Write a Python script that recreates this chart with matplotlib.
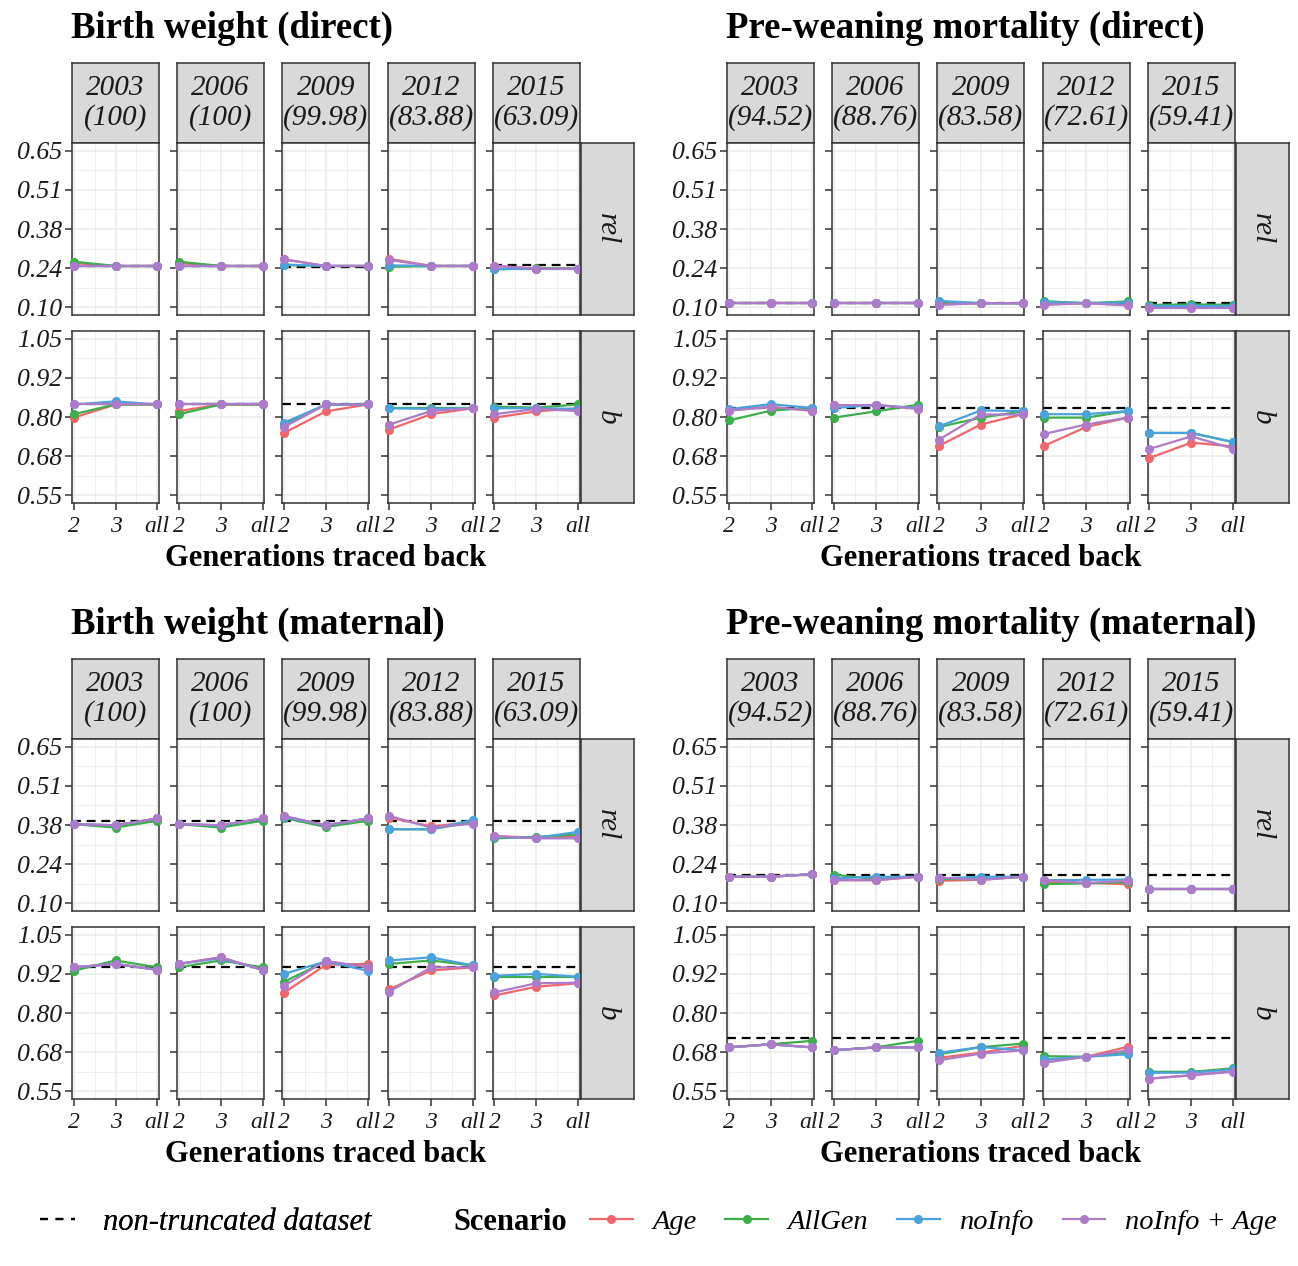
import numpy as np
import matplotlib
matplotlib.use("Agg")
import matplotlib.pyplot as plt
from matplotlib.lines import Line2D

plt.rcParams['font.family'] = ['Liberation Serif', 'DejaVu Serif']

# ---- data -------------------------------------------------------------
years = ["2003", "2006", "2009", "2012", "2015"]
bw_pct = ["100", "100", "99.98", "83.88", "63.09"]
pwm_pct = ["94.52", "88.76", "83.58", "72.61", "59.41"]
gens = ["2", "3", "all"]
scenarios = ["Age", "AllGen", "noInfo", "noInfo + Age"]
colors = ["#F0676B", "#3DAE4B", "#4CA2DD", "#AE7BCB"]

rel_ticks = ["0.10", "0.24", "0.38", "0.51", "0.65"]
b_ticks = ["0.55", "0.68", "0.80", "0.92", "1.05"]

# each scenario: rows = years, cols = generations (2, 3, all)
# Birth weight (direct)
bwd_rel_ref = [0.245, 0.245, 0.241, 0.245, 0.247]
bwd_rel = {
    "Age":          [[0.255, 0.245, 0.245], [0.255, 0.245, 0.245], [0.268, 0.245, 0.245], [0.270, 0.245, 0.245], [0.245, 0.236, 0.236]],
    "AllGen":       [[0.260, 0.245, 0.245], [0.260, 0.245, 0.245], [0.248, 0.245, 0.245], [0.242, 0.245, 0.245], [0.233, 0.237, 0.236]],
    "noInfo":       [[0.245, 0.245, 0.245], [0.245, 0.245, 0.245], [0.250, 0.245, 0.245], [0.247, 0.245, 0.245], [0.236, 0.236, 0.236]],
    "noInfo + Age": [[0.245, 0.245, 0.245], [0.245, 0.245, 0.245], [0.268, 0.245, 0.245], [0.266, 0.245, 0.245], [0.246, 0.235, 0.235]],
}
bwd_b_ref = [0.840, 0.840, 0.840, 0.840, 0.840]
bwd_b = {
    "Age":          [[0.798, 0.840, 0.840], [0.819, 0.840, 0.840], [0.749, 0.818, 0.840], [0.760, 0.809, 0.828], [0.798, 0.818, 0.828]],
    "AllGen":       [[0.809, 0.840, 0.840], [0.809, 0.840, 0.840], [0.775, 0.840, 0.840], [0.828, 0.828, 0.828], [0.833, 0.830, 0.840]],
    "noInfo":       [[0.840, 0.850, 0.840], [0.840, 0.840, 0.840], [0.782, 0.840, 0.840], [0.828, 0.826, 0.828], [0.828, 0.828, 0.826]],
    "noInfo + Age": [[0.840, 0.840, 0.840], [0.840, 0.840, 0.840], [0.768, 0.840, 0.840], [0.776, 0.819, 0.828], [0.809, 0.826, 0.819]],
}

# Pre-weaning mortality (direct)
pwd_rel_ref = [0.114, 0.114, 0.114, 0.114, 0.116]
pwd_rel = {
    "Age":          [[0.114, 0.114, 0.114], [0.114, 0.114, 0.114], [0.110, 0.114, 0.114], [0.110, 0.114, 0.108], [0.100, 0.098, 0.098]],
    "AllGen":       [[0.114, 0.114, 0.114], [0.114, 0.114, 0.114], [0.118, 0.114, 0.114], [0.121, 0.114, 0.120], [0.108, 0.110, 0.108]],
    "noInfo":       [[0.114, 0.114, 0.114], [0.114, 0.114, 0.114], [0.122, 0.114, 0.114], [0.118, 0.114, 0.116], [0.105, 0.105, 0.105]],
    "noInfo + Age": [[0.114, 0.114, 0.114], [0.114, 0.114, 0.114], [0.108, 0.114, 0.114], [0.108, 0.114, 0.106], [0.096, 0.096, 0.096]],
}
pwd_b_ref = [0.829, 0.829, 0.829, 0.829, 0.829]
pwd_b = {
    "Age":          [[0.822, 0.832, 0.820], [0.838, 0.838, 0.827], [0.708, 0.776, 0.809], [0.708, 0.768, 0.798], [0.669, 0.718, 0.706]],
    "AllGen":       [[0.789, 0.820, 0.830], [0.798, 0.818, 0.839], [0.768, 0.798, 0.818], [0.798, 0.798, 0.819], [0.749, 0.749, 0.720]],
    "noInfo":       [[0.825, 0.841, 0.829], [0.829, 0.838, 0.829], [0.770, 0.821, 0.819], [0.809, 0.809, 0.819], [0.749, 0.749, 0.720]],
    "noInfo + Age": [[0.820, 0.832, 0.820], [0.838, 0.838, 0.827], [0.728, 0.808, 0.808], [0.746, 0.776, 0.798], [0.698, 0.738, 0.699]],
}

# Birth weight (maternal)
bwm_rel_ref = [0.390, 0.390, 0.390, 0.390, 0.390]
bwm_rel = {
    "Age":          [[0.378, 0.374, 0.398], [0.378, 0.374, 0.398], [0.405, 0.374, 0.398], [0.401, 0.370, 0.385], [0.336, 0.330, 0.335]],
    "AllGen":       [[0.378, 0.366, 0.390], [0.378, 0.366, 0.390], [0.400, 0.368, 0.390], [0.360, 0.360, 0.385], [0.328, 0.333, 0.342]],
    "noInfo":       [[0.378, 0.374, 0.398], [0.378, 0.374, 0.398], [0.403, 0.374, 0.398], [0.360, 0.360, 0.393], [0.333, 0.330, 0.351]],
    "noInfo + Age": [[0.378, 0.374, 0.398], [0.378, 0.374, 0.398], [0.407, 0.374, 0.398], [0.407, 0.366, 0.380], [0.336, 0.328, 0.328]],
}
bwm_b_ref = [0.946, 0.946, 0.946, 0.946, 0.946]
bwm_b = {
    "Age":          [[0.946, 0.957, 0.938], [0.957, 0.978, 0.938], [0.865, 0.954, 0.957], [0.876, 0.936, 0.946], [0.856, 0.884, 0.895]],
    "AllGen":       [[0.935, 0.968, 0.946], [0.946, 0.968, 0.946], [0.900, 0.965, 0.946], [0.957, 0.968, 0.952], [0.916, 0.916, 0.916]],
    "noInfo":       [[0.946, 0.957, 0.938], [0.957, 0.975, 0.938], [0.925, 0.965, 0.935], [0.968, 0.978, 0.952], [0.919, 0.925, 0.916]],
    "noInfo + Age": [[0.946, 0.957, 0.938], [0.957, 0.978, 0.938], [0.887, 0.967, 0.946], [0.868, 0.946, 0.946], [0.866, 0.895, 0.897]],
}

# Pre-weaning mortality (maternal)
pwm_rel_ref = [0.200, 0.200, 0.200, 0.200, 0.200]
pwm_rel = {
    "Age":          [[0.193, 0.193, 0.202], [0.181, 0.181, 0.193], [0.179, 0.182, 0.193], [0.175, 0.171, 0.167], [0.149, 0.149, 0.149]],
    "AllGen":       [[0.193, 0.193, 0.202], [0.200, 0.185, 0.193], [0.185, 0.184, 0.193], [0.167, 0.170, 0.174], [0.149, 0.149, 0.149]],
    "noInfo":       [[0.193, 0.193, 0.202], [0.187, 0.193, 0.193], [0.187, 0.193, 0.193], [0.181, 0.182, 0.183], [0.149, 0.149, 0.149]],
    "noInfo + Age": [[0.193, 0.193, 0.202], [0.181, 0.181, 0.193], [0.190, 0.182, 0.193], [0.181, 0.171, 0.179], [0.149, 0.149, 0.149]],
}
pwm_b_ref = [0.720, 0.720, 0.720, 0.720, 0.720]
pwm_b = {
    "Age":          [[0.690, 0.700, 0.690], [0.681, 0.690, 0.690], [0.657, 0.673, 0.695], [0.649, 0.660, 0.692], [0.590, 0.601, 0.614]],
    "AllGen":       [[0.690, 0.700, 0.711], [0.681, 0.690, 0.711], [0.668, 0.691, 0.702], [0.662, 0.660, 0.673], [0.612, 0.612, 0.623]],
    "noInfo":       [[0.690, 0.700, 0.690], [0.681, 0.690, 0.690], [0.673, 0.691, 0.681], [0.652, 0.660, 0.668], [0.609, 0.609, 0.620]],
    "noInfo + Age": [[0.690, 0.700, 0.690], [0.681, 0.690, 0.690], [0.649, 0.670, 0.681], [0.641, 0.660, 0.681], [0.590, 0.601, 0.612]],
}

# ---- layout -----------------------------------------------------------
W, H = 1298, 1266
fig = plt.figure(figsize=(W / 100, H / 100), dpi=100)
fig.patch.set_facecolor("white")

EDGE = "#333333"
STRIP = "#D9D9D9"
GRID = "#EBEBEB"
TXT = "#1A1A1A"


def ax_px(x, y, w, h):
    return fig.add_axes([x / W, 1 - (y + h) / H, w / W, h / H])


blocks = [
    ("Birth weight (direct)", 72, 63, bw_pct, bwd_rel, bwd_rel_ref, bwd_b, bwd_b_ref),
    ("Pre-weaning mortality (direct)", 727, 63, pwm_pct, pwd_rel, pwd_rel_ref, pwd_b, pwd_b_ref),
    ("Birth weight (maternal)", 72, 659, bw_pct, bwm_rel, bwm_rel_ref, bwm_b, bwm_b_ref),
    ("Pre-weaning mortality (maternal)", 727, 659, pwm_pct, pwm_rel, pwm_rel_ref, pwm_b, pwm_b_ref),
]

pitch, pw = 105.2, 87
strip_h, ph, gap = 80, 172, 16

for title, x0, y0, pct, rel, rel_ref, bb, b_ref in blocks:
    fig.text((x0 - 1) / W, 1 - (y0 - 25) / H, title, fontsize=26.5, fontweight="bold",
             ha="left", va="baseline")
    rows = [("rel", rel, rel_ref, (0.10, 0.65), rel_ticks, y0 + strip_h),
            ("b", bb, b_ref, (0.55, 1.05), b_ticks, y0 + strip_h + ph + gap)]
    for i in range(5):
        px = x0 + i * pitch
        sax = ax_px(px, y0, pw, strip_h)
        sax.set_facecolor(STRIP)
        sax.set_xticks([])
        sax.set_yticks([])
        for s in sax.spines.values():
            s.set_color(EDGE)
            s.set_linewidth(1.1)
        sax.text(0.5, 0.5, f"{years[i]}\n({pct[i]})", transform=sax.transAxes,
                 ha="center", va="center", fontsize=21, style="italic",
                 linespacing=1.12, color=TXT)

        for r, (lab, data, ref, (lo, hi), tlabels, py) in enumerate(rows):
            ax = ax_px(px, py, pw, ph)
            xs = np.arange(1, 4)
            ax.axhline(ref[i], color="black", lw=1.6, ls=(0, (4, 2.6)), zorder=2)
            for k, sc in enumerate(scenarios):
                ax.plot(xs, data[sc][i], color=colors[k], lw=1.6, marker="o",
                        markersize=5.5, zorder=3 + k, clip_on=False)
            pad = (hi - lo) * 0.05
            ax.set_ylim(lo - pad, hi + pad)
            ax.set_xlim(0.96, 3.04)
            major = np.linspace(lo, hi, 5)
            ax.set_yticks(major)
            ax.set_yticks((major[:-1] + major[1:]) / 2, minor=True)
            ax.set_xticks(xs)
            ax.set_xticks([1.5, 2.5], minor=True)
            ax.grid(which="major", color=GRID, lw=1.1)
            ax.grid(which="minor", color=GRID, lw=0.55)
            ax.set_axisbelow(True)
            ax.tick_params(which="minor", length=0)
            ax.tick_params(which="major", length=5, width=1.1, color=EDGE, pad=2)
            ax.tick_params(axis="y", labelsize=18.5)
            ax.tick_params(axis="x", labelsize=17, pad=4)
            for s in ax.spines.values():
                s.set_color(EDGE)
                s.set_linewidth(1.1)
            if i == 0:
                ax.set_yticklabels(tlabels, style="italic", color=TXT)
            else:
                ax.set_yticklabels([])
            if r == 1:
                ax.set_xticklabels(gens, style="italic", color=TXT)
            else:
                ax.tick_params(axis="x", length=0)
                ax.set_xticklabels([])

            if i == 4:
                rax = ax_px(px + pw + 1, py, 53, ph)
                rax.set_facecolor(STRIP)
                rax.set_xticks([])
                rax.set_yticks([])
                for s in rax.spines.values():
                    s.set_color(EDGE)
                    s.set_linewidth(1.1)
                rax.text(0.5, 0.5, lab, transform=rax.transAxes, rotation=-90,
                         ha="center", va="center", fontsize=21, style="italic",
                         color=TXT)

    cx = (x0 + x0 + 4 * pitch + pw) / 2
    fig.text(cx / W, 1 - (y0 + 496) / H, "Generations traced back", fontsize=22,
             fontweight="bold", ha="center", va="center")

# ---- legends ----------------------------------------------------------
ref_handle = [Line2D([], [], color="black", lw=1.6, ls=(0, (3.5, 3.5)))]
leg1 = fig.legend(ref_handle, ["non-truncated dataset"], loc="center left",
                  bbox_to_anchor=(40 / W, 1 - 1222 / H), frameon=False,
                  prop={"size": 22, "style": "italic"}, handlelength=1.15,
                  handletextpad=0.9, borderpad=0, borderaxespad=0)
fig.add_artist(leg1)

sc_handles = [Line2D([], [], color=c, lw=1.6, marker="o", markersize=5.5) for c in colors]
fig.text(453 / W, 1 - 1222 / H, "Scenario", fontsize=22, fontweight="bold",
         ha="left", va="center")
fig.legend(sc_handles, scenarios, loc="center left", ncol=4,
           bbox_to_anchor=(590 / W, 1 - 1222 / H), frameon=False,
           prop={"size": 20.5, "style": "italic"}, handlelength=1.5,
           handletextpad=0.7, columnspacing=1.0, borderpad=0, borderaxespad=0)

fig.savefig("out.png", dpi=100)
